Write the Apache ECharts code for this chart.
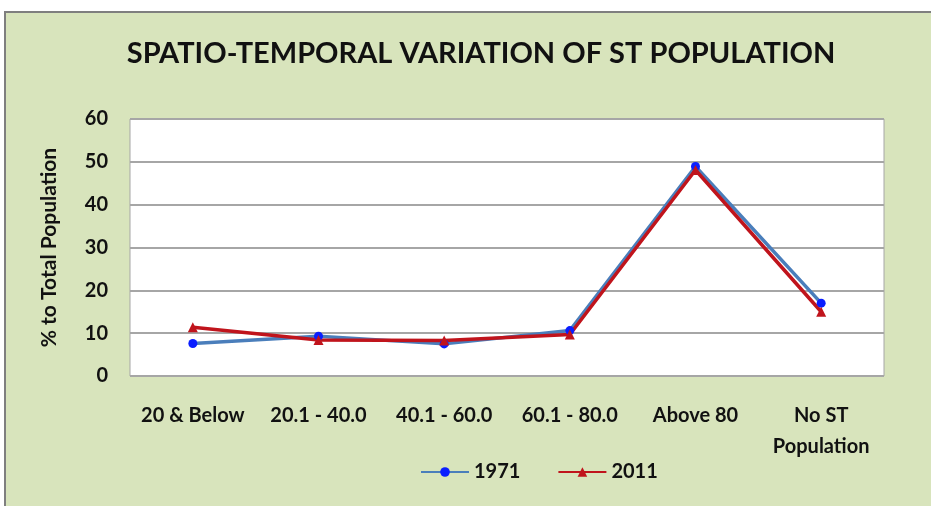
<!DOCTYPE html>
<html><head><meta charset="utf-8">
<script src="https://cdn.jsdelivr.net/npm/echarts@6/dist/echarts.min.js"></script>
<style>html,body{margin:0;padding:0;background:#fff}#c{width:931px;height:506px}</style>
</head><body><div id="c"></div>
<script>
const categories = ['20 & Below', '20.1 - 40.0', '40.1 - 60.0', '60.1 - 80.0', 'Above 80', 'No ST\nPopulation'];
const series1971 = [7.6, 9.3, 7.5, 10.6, 48.9, 17.0];
const series2011 = [11.4, 8.4, 8.3, 9.7, 48.1, 15.0];
const yTicks = { min: 0, max: 60, interval: 10 };
const FONT = 'Lato, "Open Sans", sans-serif';

const chart = echarts.init(document.getElementById('c'), null, { renderer: 'canvas' });
chart.setOption({
  backgroundColor: '#ffffff',
  animation: false,
  graphic: [{
    type: 'rect', z: -10, silent: true,
    shape: { x: 5, y: 12, width: 940, height: 510 },
    style: { fill: '#d8e4bc', stroke: '#7f7f7f', lineWidth: 2 }
  }],
  title: {
    text: 'SPATIO-TEMPORAL VARIATION OF ST POPULATION',
    left: 476, top: 34, textAlign: 'center',
    textStyle: { fontFamily: FONT, fontSize: 29, fontWeight: 'bold', color: '#111' }
  },
  legend: {
    top: 457, left: 415,
    itemWidth: 48, itemHeight: 12, itemGap: 37,
    textStyle: { fontFamily: FONT, fontSize: 20, fontWeight: 'bold', color: '#111', padding: [0, 0, 0, 0] },
    data: ['1971', '2011']
  },
  grid: { left: 130, right: 47, top: 119, bottom: 130, backgroundColor: '#fff', show: true, borderColor: '#a6a6a6', borderWidth: 1 },
  xAxis: {
    type: 'category', data: categories, boundaryGap: true,
    axisLine: { show: false }, axisTick: { show: false },
    axisLabel: { fontFamily: FONT, fontSize: 20, fontWeight: 'bold', color: '#111', margin: 24, lineHeight: 31, interval: 0 }
  },
  yAxis: {
    type: 'value', min: yTicks.min, max: yTicks.max, interval: yTicks.interval,
    name: '% to Total Population', nameLocation: 'middle', nameGap: 70, nameRotate: 90,
    nameTextStyle: { fontFamily: FONT, fontSize: 21, fontWeight: 'bold', color: '#111' },
    axisLine: { show: false }, axisTick: { show: false },
    axisLabel: { fontFamily: FONT, fontSize: 20, fontWeight: 'bold', color: '#111', margin: 22 },
    splitLine: { lineStyle: { color: '#a6a6a6', width: 2 } }
  },
  series: [
    { name: '1971', type: 'line', data: series1971, symbol: 'circle', symbolSize: 9,
      lineStyle: { color: '#4a7ebb', width: 3.5 }, itemStyle: { color: '#0a1eff' } },
    { name: '2011', type: 'line', data: series2011, symbol: 'triangle', symbolSize: 10,
      lineStyle: { color: '#c0141c', width: 3.5 }, itemStyle: { color: '#c0141c' } }
  ]
});
</script></body></html>
